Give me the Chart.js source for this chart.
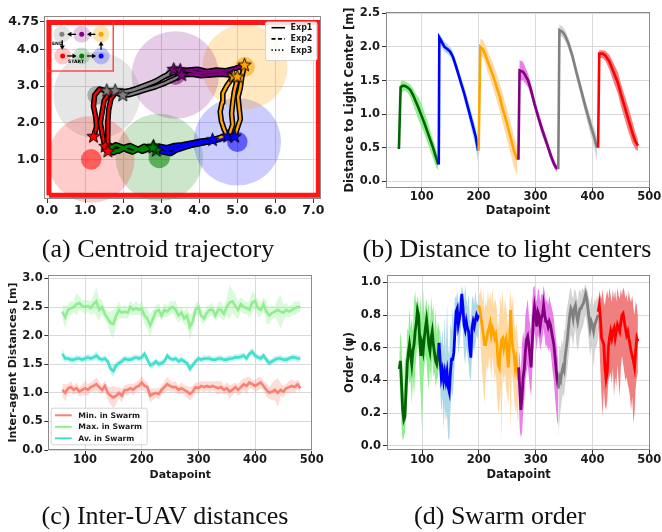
<!DOCTYPE html>
<html><head><meta charset="utf-8">
<script src="https://cdn.jsdelivr.net/npm/chart.js@4.4.1/dist/chart.umd.min.js"></script>
<style>
html,body{margin:0;padding:0;background:#fff;}
#wrap{position:relative;width:662px;height:532px;overflow:hidden;background:#fff;}
canvas{position:absolute;left:0;top:0;}
.cap{position:absolute;font-family:"Liberation Serif","Times New Roman",serif;font-size:26px;color:#111;white-space:nowrap;transform:translateX(-50%);line-height:1;}
</style></head>
<body><div id="wrap">
<canvas id="ca" width="662" height="532"></canvas>
<canvas id="cb" width="662" height="532"></canvas>
<canvas id="cc" width="662" height="532"></canvas>
<canvas id="cd" width="662" height="532"></canvas>
<div class="cap" style="left:158px;top:236px">(a) Centroid trajectory</div>
<div class="cap" style="left:507px;top:236px">(b) Distance to light centers</div>
<div class="cap" style="left:165px;top:503px">(c) Inter-UAV distances</div>
<div class="cap" style="left:500px;top:503px">(d) Swarm order</div>
</div>
<script>
// ================= DATA =================
// ---- Panel (a): lights (order: green, blue, orange, purple, gray, red) ----
const lightX = [2.95, 5.00, 5.20, 3.37, 1.31, 1.16];
const lightY = [1.05, 1.48, 3.52, 3.30, 2.75, 1.00];
const bigRadius = [1.15, 1.15, 1.12, 1.15, 1.14, 1.14];
const smallRadius = [0.28, 0.27, 0.26, 0.26, 0.25, 0.27];
const arenaX = [0.05, 7.13, 7.13, 0.05, 0.05];
const arenaY = [0.02, 0.02, 4.73, 4.73, 0.02];
const insetBoxX = [-0.01, 1.74, 1.74];
const insetBoxY = [3.41, 3.41, 4.75];
const insetX = [0.91, 1.42, 1.42, 0.91, 0.39, 0.41];
const insetY = [3.82, 3.82, 4.41, 4.41, 4.41, 3.82];
const insetArrows = [[0.53,3.82,0.78,3.82],[1.05,3.82,1.29,3.82],[1.42,3.99,1.42,4.22],[1.27,4.41,1.05,4.41],[0.76,4.41,0.53,4.41],[0.40,4.25,0.40,3.99]];
// trajectories [x,y]
const exp1Green  = [[1.50,1.32],[1.58,1.42],[1.70,1.36],[1.62,1.22],[1.75,1.18],[1.92,1.28],[2.10,1.36],[2.28,1.30],[2.45,1.26],[2.62,1.32],[2.80,1.36]];
const exp1Blue   = [[2.80,1.36],[2.98,1.30],[3.15,1.26],[3.35,1.30],[3.55,1.34],[3.75,1.38],[3.95,1.42],[4.15,1.46],[4.35,1.50],[4.55,1.55],[4.75,1.62]];
const exp1Orange = [[4.75,1.62],[4.66,1.80],[4.58,2.05],[4.55,2.30],[4.60,2.55],[4.62,2.80],[4.72,3.00],[4.90,3.27]];
const exp1Purple = [[4.90,3.27],[4.72,3.33],[4.50,3.40],[4.25,3.38],[4.00,3.35],[3.80,3.40],[3.55,3.44],[3.33,3.45]];
const exp1Gray   = [[3.33,3.45],[3.15,3.30],[2.90,3.15],[2.65,3.05],[2.40,2.95],[2.15,2.86],[1.90,2.80],[1.57,2.87]];
const exp1Red    = [[1.57,2.87],[1.38,2.92],[1.25,2.75],[1.22,2.45],[1.28,2.15],[1.30,1.90],[1.25,1.70],[1.22,1.62]];
const exp2Green  = [[1.55,1.25],[1.68,1.30],[1.80,1.40],[1.95,1.35],[2.10,1.25],[2.25,1.20],[2.40,1.28],[2.55,1.36],[2.70,1.30],[2.87,1.24]];
const exp2Blue   = [[2.87,1.24],[3.05,1.20],[3.25,1.16],[3.40,1.25],[3.60,1.32],[3.85,1.40],[4.10,1.45],[4.35,1.53],[4.60,1.58],[4.93,1.62]];
const exp2Orange = [[4.93,1.62],[5.00,1.85],[5.08,2.10],[5.05,2.40],[5.02,2.70],[5.08,2.95],[5.12,3.25],[5.19,3.57]];
const exp2Purple = [[5.19,3.57],[4.95,3.48],[4.70,3.42],[4.45,3.44],[4.20,3.40],[3.95,3.46],[3.70,3.44],[3.50,3.43]];
const exp2Gray   = [[3.50,3.43],[3.30,3.36],[3.05,3.25],[2.80,3.10],[2.55,3.00],[2.30,2.90],[2.05,2.85],[1.79,2.87]];
const exp2Red    = [[1.79,2.87],[1.62,2.80],[1.50,2.60],[1.45,2.30],[1.40,2.00],[1.45,1.70],[1.50,1.45],[1.53,1.35]];
const exp3Green  = [[1.60,1.20],[1.72,1.28],[1.88,1.22],[2.02,1.30],[2.18,1.38],[2.35,1.30],[2.50,1.22],[2.65,1.28],[2.78,1.32]];
const exp3Blue   = [[2.78,1.32],[2.95,1.36],[3.15,1.32],[3.35,1.38],[3.55,1.40],[3.80,1.45],[4.05,1.50],[4.35,1.53]];
const exp3Orange = [[4.35,1.53],[4.55,1.60],[4.80,1.70],[4.88,1.95],[4.85,2.25],[4.88,2.55],[4.92,2.85],[4.98,3.10],[5.00,3.25]];
const exp3Purple = [[5.00,3.25],[4.80,3.30],[4.55,3.32],[4.30,3.30],[4.05,3.28],[3.80,3.32],[3.54,3.30]];
const exp3Gray   = [[3.54,3.30],[3.35,3.20],[3.10,3.08],[2.85,2.98],[2.60,2.90],[2.35,2.82],[2.15,2.76],[1.99,2.75]];
const exp3Red    = [[1.99,2.75],[1.80,2.82],[1.68,2.65],[1.62,2.35],[1.60,2.05],[1.58,1.75],[1.60,1.45],[1.60,1.22]];
const starX = [2.80,2.87,2.78, 4.75,4.93,4.35, 4.90,5.19,5.00, 3.33,3.50,3.54, 1.57,1.79,1.99, 1.22,1.53,1.60];
const starY = [1.36,1.24,1.32, 1.62,1.62,1.53, 3.27,3.57,3.25, 3.45,3.43,3.30, 2.87,2.87,2.75, 1.62,1.35,1.22];
const aXTicks = [0,1,2,3,4,5,6,7];
const aYTicks = [1,2,3,4,4.75];

// ---- Panel (b): distance to light center ----
const bGreenX = [60,63,66,70,75,80,85,90,95,100,105,110,115,120,125,129];
const bGreenMean = [0.48,1.40,1.42,1.42,1.40,1.36,1.28,1.18,1.08,0.97,0.86,0.74,0.62,0.50,0.36,0.25];
const bGreenLo = [0.42,1.30,1.33,1.35,1.32,1.25,1.14,1.02,0.90,0.80,0.70,0.58,0.46,0.34,0.22,0.16];
const bGreenHi = [0.54,1.48,1.50,1.49,1.47,1.44,1.38,1.30,1.24,1.14,1.02,0.90,0.76,0.62,0.48,0.34];
const bBlueX = [130,131,135,140,145,150,155,160,165,170,175,180,185,190,195,199];
const bBlueMean = [0.25,2.14,2.08,2.00,1.97,1.93,1.85,1.72,1.58,1.44,1.30,1.14,0.98,0.82,0.66,0.46];
const bBlueLo = [0.22,2.06,2.00,1.93,1.90,1.86,1.77,1.64,1.50,1.35,1.20,1.04,0.86,0.68,0.50,0.30];
const bBlueHi = [0.28,2.20,2.15,2.08,2.04,2.00,1.93,1.80,1.67,1.53,1.40,1.25,1.10,0.95,0.80,0.58];
const bOrangeX = [200,203,208,212,218,225,230,237,243,250,256,262,268];
const bOrangeMean = [0.46,2.00,1.96,1.88,1.74,1.58,1.45,1.26,1.06,0.86,0.66,0.46,0.32];
const bOrangeLo = [0.40,1.88,1.84,1.74,1.58,1.40,1.26,1.05,0.84,0.62,0.42,0.22,0.08];
const bOrangeHi = [0.50,2.12,2.10,2.02,1.90,1.76,1.64,1.46,1.28,1.08,0.88,0.68,0.50];
const bPurpleX = [270,272,278,282,287,292,298,305,312,320,327,333,338];
const bPurpleMean = [0.32,1.65,1.63,1.58,1.50,1.36,1.16,0.95,0.76,0.56,0.38,0.25,0.18];
const bPurpleLo = [0.26,1.50,1.50,1.46,1.40,1.27,1.08,0.87,0.68,0.49,0.31,0.19,0.14];
const bPurpleHi = [0.38,1.80,1.78,1.70,1.60,1.46,1.25,1.04,0.84,0.64,0.45,0.31,0.23];
const bGrayX = [340,342,348,352,358,365,372,380,388,396,403,408];
const bGrayMean = [0.18,2.25,2.22,2.17,2.05,1.86,1.62,1.36,1.10,0.86,0.66,0.50];
const bGrayLo = [0.15,2.17,2.14,2.09,1.97,1.78,1.53,1.26,0.99,0.72,0.50,0.30];
const bGrayHi = [0.21,2.33,2.30,2.25,2.13,1.94,1.71,1.46,1.20,0.98,0.80,0.66];
const bRedX = [410,412,418,423,430,437,445,450,457,464,470,475,480];
const bRedMean = [0.50,1.90,1.90,1.87,1.78,1.63,1.46,1.30,1.10,0.90,0.73,0.60,0.53];
const bRedLo = [0.44,1.84,1.83,1.79,1.66,1.48,1.30,1.12,0.92,0.72,0.57,0.48,0.45];
const bRedHi = [0.56,1.95,1.95,1.94,1.88,1.76,1.62,1.46,1.27,1.08,0.90,0.74,0.62];
const bYTicks = [0,0.5,1,1.5,2,2.5];
const dpTicks = [100,200,300,400,500];

// ---- Panel (c): inter-agent distances, datapoints 60..480 every 5 ----
const cX = [60,65,70,75,80,85,90,95,100,105,110,115,120,125,130,135,140,145,150,155,160,165,170,175,180,185,190,195,200,205,210,215,220,225,230,235,240,245,250,255,260,265,270,275,280,285,290,295,300,305,310,315,320,325,330,335,340,345,350,355,360,365,370,375,380,385,390,395,400,405,410,415,420,425,430,435,440,445,450,455,460,465,470,475,480];
const cMaxMean = [2.42,2.32,2.45,2.48,2.50,2.55,2.57,2.52,2.50,2.52,2.48,2.55,2.60,2.45,2.50,2.38,2.30,
 2.22,2.20,2.35,2.45,2.40,2.42,2.40,2.50,2.45,2.48,2.45,2.47,2.35,2.30,2.18,2.30,2.42,
 2.45,2.35,2.45,2.42,2.48,2.50,2.45,2.35,2.40,2.30,2.35,2.15,2.25,2.45,2.50,2.35,2.30,
 2.40,2.45,2.45,2.35,2.45,2.45,2.38,2.50,2.58,2.60,2.52,2.45,2.55,2.50,2.48,2.45,2.58,
 2.60,2.48,2.45,2.55,2.42,2.35,2.40,2.42,2.45,2.42,2.40,2.45,2.42,2.45,2.48,2.50,2.50];
const cMaxSpread = [0.12,0.20,0.10,0.12,0.10,0.20,0.12,0.10,0.12,0.10,0.12,0.15,0.25,0.20,0.12,0.10,0.12,
 0.20,0.25,0.15,0.15,0.10,0.12,0.10,0.12,0.10,0.12,0.10,0.12,0.15,0.18,0.20,0.15,0.10,
 0.12,0.10,0.12,0.10,0.12,0.10,0.15,0.12,0.10,0.12,0.15,0.22,0.15,0.12,0.10,0.12,0.10,
 0.12,0.10,0.12,0.10,0.12,0.15,0.12,0.15,0.30,0.20,0.20,0.15,0.12,0.12,0.10,0.15,0.20,
 0.12,0.15,0.12,0.12,0.20,0.15,0.12,0.10,0.20,0.30,0.15,0.12,0.10,0.10,0.12,0.10,0.08];
const cAvMean = [1.68,1.60,1.60,1.58,1.58,1.60,1.60,1.58,1.60,1.62,1.60,1.62,1.65,1.60,1.58,1.60,1.55,
 1.42,1.38,1.48,1.52,1.55,1.60,1.58,1.58,1.60,1.62,1.60,1.62,1.68,1.58,1.48,1.50,1.55,
 1.50,1.52,1.55,1.65,1.60,1.58,1.60,1.55,1.58,1.55,1.52,1.42,1.48,1.55,1.60,1.58,1.60,
 1.60,1.60,1.58,1.58,1.60,1.60,1.58,1.58,1.60,1.60,1.62,1.62,1.63,1.65,1.60,1.68,1.72,
 1.65,1.62,1.60,1.65,1.58,1.52,1.55,1.58,1.60,1.60,1.58,1.58,1.60,1.62,1.62,1.60,1.60];
const cAvSpread = [0.10,0.06,0.05,0.06,0.05,0.06,0.05,0.06,0.05,0.06,0.05,0.06,0.08,0.06,0.05,0.06,0.06,
 0.08,0.10,0.06,0.05,0.06,0.05,0.06,0.05,0.06,0.05,0.06,0.05,0.07,0.06,0.06,0.06,0.05,
 0.06,0.05,0.06,0.06,0.05,0.06,0.05,0.06,0.05,0.06,0.06,0.08,0.06,0.05,0.06,0.05,0.06,
 0.05,0.06,0.05,0.06,0.05,0.06,0.05,0.06,0.06,0.05,0.06,0.05,0.06,0.05,0.06,0.06,0.07,
 0.06,0.05,0.06,0.05,0.07,0.06,0.05,0.06,0.05,0.06,0.05,0.06,0.05,0.06,0.05,0.06,0.05];
const cMinMean = [1.05,1.00,1.08,1.10,1.05,1.08,1.02,1.05,1.08,1.05,1.10,1.12,1.15,1.10,1.05,1.12,1.00,
 0.95,0.92,0.95,1.00,0.95,1.05,1.05,1.08,1.05,1.10,1.12,1.18,1.12,1.10,0.95,0.98,1.00,
 0.98,1.05,1.10,1.15,1.12,1.10,1.10,1.05,1.08,1.05,1.02,0.98,1.02,1.10,1.08,1.12,1.10,
 1.12,1.10,1.12,1.10,1.08,1.10,1.05,1.08,1.02,1.05,1.10,1.05,1.10,1.15,1.12,1.18,1.15,
 1.12,1.15,1.18,1.12,1.05,1.00,1.02,1.05,1.00,1.05,1.02,1.08,1.10,1.12,1.10,1.15,1.08];
const cMinSpread = [0.10,0.15,0.08,0.10,0.08,0.10,0.08,0.10,0.12,0.10,0.08,0.10,0.12,0.10,0.08,0.10,0.12,
 0.15,0.20,0.15,0.10,0.12,0.08,0.10,0.08,0.10,0.08,0.10,0.12,0.10,0.08,0.12,0.10,0.08,
 0.10,0.08,0.10,0.12,0.10,0.08,0.10,0.08,0.10,0.08,0.10,0.12,0.10,0.08,0.10,0.08,0.10,
 0.08,0.10,0.08,0.10,0.12,0.10,0.08,0.10,0.12,0.10,0.08,0.10,0.12,0.10,0.15,0.10,0.08,
 0.10,0.12,0.10,0.08,0.12,0.10,0.15,0.18,0.25,0.12,0.10,0.08,0.10,0.12,0.10,0.08,0.10];
const cYTicks = [0,0.5,1,1.5,2,2.5,3];
const cLegend = ['Min. in Swarm','Max. in Swarm','Av. in Swarm'];

// ---- Panel (d): swarm order, every 2 datapoints per light segment ----
const dStarts = [60,130,200,270,340,410];
const dGreenMean = [0.47,0.52,0.38,0.22,0.16,0.18,0.35,0.50,0.57,0.62,0.56,0.50,0.58,0.62,0.70,0.75,0.83,0.80,0.65,0.55,0.62,0.58,0.66,0.72,0.77,0.70,0.62,0.58,0.66,0.70,0.62,0.57,0.52,0.50,0.55,0.63];
const dGreenHi = [0.55,0.70,0.62,0.45,0.30,0.55,0.52,0.72,0.70,0.85,0.72,0.78,0.70,0.88,0.95,0.85,0.92,0.88,0.80,0.93,0.75,0.96,0.80,0.86,0.90,0.82,0.88,0.72,0.92,0.82,0.86,0.70,0.84,0.68,0.76,0.72];
const dGreenLo = [0.40,0.30,0.12,0.03,0.05,0.08,0.20,0.30,0.42,0.38,0.40,0.25,0.42,0.30,0.45,0.55,0.62,0.60,0.42,0.30,0.10,0.38,0.48,0.55,0.52,0.40,0.35,0.48,0.38,0.55,0.42,0.45,0.36,0.40,0.42,0.50];
const dBlueMean = [0.63,0.52,0.42,0.46,0.40,0.45,0.40,0.45,0.36,0.33,0.45,0.53,0.53,0.57,0.70,0.82,0.84,0.74,0.78,0.82,0.93,0.85,0.74,0.71,0.76,0.72,0.70,0.60,0.54,0.72,0.76,0.73,0.77,0.80,0.78,0.80];
const dBlueHi = [0.72,0.70,0.62,0.72,0.58,0.80,0.55,0.88,0.60,0.55,0.75,0.70,0.85,0.75,0.92,0.90,0.95,0.86,0.92,0.90,0.98,0.95,0.88,0.99,0.90,0.85,0.94,0.80,0.75,0.90,0.92,0.86,0.95,0.88,0.86,0.90];
const dBlueLo = [0.50,0.35,0.20,0.30,0.10,0.25,0.15,0.20,0.05,0.03,0.22,0.35,0.30,0.40,0.55,0.70,0.70,0.55,0.62,0.70,0.80,0.70,0.55,0.50,0.60,0.55,0.50,0.42,0.40,0.55,0.60,0.58,0.62,0.68,0.65,0.72];
const dOrangeMean = [0.86,0.83,0.78,0.73,0.68,0.62,0.62,0.66,0.70,0.72,0.75,0.68,0.72,0.70,0.66,0.68,0.62,0.50,0.48,0.58,0.65,0.66,0.60,0.64,0.66,0.55,0.48,0.62,0.83,0.66,0.60,0.56,0.48,0.52,0.45,0.40];
const dOrangeHi = [0.95,0.92,0.98,0.88,0.95,0.82,0.90,0.85,0.96,0.88,0.94,0.86,0.97,0.85,0.90,0.88,0.82,0.72,0.80,0.92,0.85,0.96,0.80,0.90,0.86,0.78,0.70,0.88,0.95,0.85,0.92,0.78,0.70,0.75,0.68,0.60];
const dOrangeLo = [0.75,0.70,0.55,0.45,0.35,0.25,0.40,0.50,0.45,0.55,0.50,0.40,0.55,0.48,0.40,0.45,0.30,0.20,0.22,0.35,0.03,0.45,0.38,0.45,0.35,0.30,0.25,0.42,0.10,0.45,0.40,0.30,0.20,0.25,0.15,0.18];
const dPurpleMean = [0.48,0.35,0.22,0.30,0.42,0.47,0.58,0.65,0.67,0.62,0.55,0.48,0.62,0.78,0.85,0.80,0.73,0.82,0.80,0.73,0.78,0.80,0.86,0.80,0.76,0.76,0.73,0.76,0.74,0.70,0.66,0.62,0.55,0.47,0.40,0.36];
const dPurpleHi = [0.60,0.55,0.45,0.62,0.70,0.65,0.80,0.85,0.90,0.80,0.75,0.70,0.88,0.97,0.98,0.92,0.88,0.96,0.95,0.88,0.93,0.92,0.98,0.94,0.88,0.90,0.86,0.92,0.88,0.85,0.82,0.78,0.70,0.65,0.58,0.50];
const dPurpleLo = [0.30,0.10,0.05,0.08,0.20,0.28,0.40,0.45,0.50,0.42,0.35,0.30,0.45,0.62,0.70,0.65,0.58,0.68,0.65,0.58,0.62,0.66,0.72,0.66,0.60,0.62,0.58,0.60,0.58,0.52,0.45,0.40,0.30,0.22,0.15,0.12];
const dGrayMean = [0.35,0.42,0.40,0.45,0.48,0.46,0.55,0.60,0.66,0.73,0.80,0.84,0.82,0.78,0.84,0.86,0.80,0.76,0.80,0.84,0.84,0.86,0.87,0.90,0.93,0.90,0.84,0.78,0.72,0.76,0.74,0.70,0.74,0.76,0.78,0.80];
const dGrayHi = [0.50,0.62,0.58,0.65,0.62,0.70,0.72,0.82,0.86,0.90,0.95,0.97,0.92,0.90,0.96,0.95,0.92,0.88,0.94,0.96,0.93,0.97,0.95,0.97,0.99,0.96,0.94,0.90,0.86,0.92,0.88,0.86,0.90,0.88,0.92,0.90];
const dGrayLo = [0.05,0.15,0.22,0.28,0.32,0.30,0.38,0.42,0.48,0.55,0.62,0.68,0.66,0.60,0.68,0.72,0.62,0.58,0.62,0.68,0.70,0.72,0.74,0.78,0.80,0.76,0.70,0.62,0.55,0.60,0.58,0.48,0.58,0.60,0.62,0.66];
const dRedMean = [0.82,0.86,0.78,0.66,0.64,0.62,0.48,0.41,0.45,0.60,0.66,0.70,0.66,0.70,0.72,0.66,0.70,0.74,0.72,0.70,0.76,0.80,0.81,0.76,0.72,0.68,0.70,0.66,0.62,0.58,0.55,0.52,0.48,0.58,0.66,0.64];
const dRedHi = [0.88,0.95,0.92,0.90,0.96,0.88,0.86,0.92,0.95,0.90,0.97,0.92,0.88,0.96,0.90,0.95,0.88,0.97,0.92,0.90,0.96,0.92,0.97,0.95,0.90,0.93,0.88,0.95,0.90,0.88,0.92,0.85,0.80,0.88,0.86,0.80];
const dRedLo = [0.72,0.65,0.45,0.30,0.18,0.35,0.25,0.22,0.28,0.40,0.42,0.45,0.38,0.48,0.30,0.42,0.36,0.50,0.40,0.30,0.48,0.55,0.50,0.45,0.40,0.42,0.38,0.35,0.30,0.22,0.30,0.14,0.20,0.35,0.42,0.45];
const dYTicks = [0,0.2,0.4,0.6,0.8,1.0];

// ================= STYLE =================
const FONT = '"DejaVu Sans", sans-serif';
const GRID = '#d9d9d9';
const TXT = '#1a1a1a';
const lineCol = ['#006400','#0000ff','#ffa500','#800080','#808080','#ff0000'];
const trajCol = ['#008000','#0000ff','#ffa500','#800080','#808080','#ff0000'];
const bandCol = ['#90ee90','#add8e6','#ffd9a3','#ea7fea','#d3d3d3','#f08080'];
const bigCol = ['rgba(0,128,0,0.2)','rgba(0,0,255,0.2)','rgba(255,165,0,0.25)','rgba(128,0,128,0.2)','rgba(128,128,128,0.2)','rgba(255,0,0,0.2)'];
const smallCol = ['rgba(0,128,0,0.55)','rgba(0,0,255,0.55)','rgba(255,165,0,0.6)','rgba(128,0,128,0.55)','rgba(128,128,128,0.55)','rgba(255,0,0,0.55)'];
const insetCol = ['rgba(0,128,0,0.22)','rgba(0,0,255,0.22)','rgba(255,165,0,0.3)','rgba(128,0,128,0.22)','rgba(128,128,128,0.22)','rgba(255,0,0,0.22)'];

Chart.defaults.font.family = FONT;
Chart.defaults.color = TXT;

function pts(xs, ys){ return xs.map((x,i)=>({x:x, y:ys[i]})); }
function pairs(a){ return a.map(p=>({x:p[0], y:p[1]})); }
function stepX(start, n){ const r=[]; for(let i=0;i<n;i++) r.push(start+2*i); return r; }
function seq(arr){ arr.forEach((d,i)=>{ d.order = -i; }); return arr; }
function L(data, o){ return Object.assign({data:data, showLine:true, pointRadius:0, pointHoverRadius:0, borderWidth:0, borderColor:'rgba(0,0,0,0)', tension:0, fill:false}, o); }

function axes(p){
  const lh = 1.2;
  return {
    x: { type:'linear', min:p.xmin, max:p.xmax,
      afterBuildTicks: s => { s.ticks = p.xticks.map(v=>({value:v})); },
      afterFit: s => { s.height = p.xH; },
      grid: {color:GRID, lineWidth:1, tickColor:'#333', tickLength:4, drawTicks:true},
      border: {display:false},
      ticks: {font:{family:FONT, weight:'bold', size:p.fs, lineHeight:1}, color:TXT, padding:p.xPad, maxRotation:0, autoSkip:false, callback: v => p.xfmt(v)},
      title: p.xTitle ? {display:true, text:p.xTitle, font:{family:FONT, weight:'bold', size:p.ts, lineHeight:lh}, color:TXT, padding:0} : {display:false}
    },
    y: { type:'linear', min:p.ymin, max:p.ymax,
      afterBuildTicks: s => { s.ticks = p.yticks.map(v=>({value:v})); },
      afterFit: s => { s.width = p.yW; },
      grid: {color:GRID, lineWidth:1, tickColor:'#333', tickLength:4, drawTicks:true},
      border: {display:false},
      ticks: {font:{family:FONT, weight:'bold', size:p.fs, lineHeight:1}, color:TXT, padding:p.yPad, autoSkip:false, callback: v => p.yfmt(v)},
      title: p.yTitle ? {display:true, text:p.yTitle, font:{family:FONT, weight:'bold', size:p.ts, lineHeight:lh}, color:TXT, padding:0} : {display:false}
    }
  };
}
const framePlugin = {id:'frame', afterDatasetsDraw(c){
  const a=c.chartArea, g=c.ctx; g.save(); g.strokeStyle='#8a8a8a'; g.lineWidth=1;
  g.strokeRect(Math.round(a.left)+0.5, Math.round(a.top)+0.5, Math.round(a.right-a.left)-1, Math.round(a.bottom-a.top)-1);
  g.restore(); }};

function baseOpts(layoutPad, scales, extra){
  return Object.assign({responsive:false, animation:false, events:[], devicePixelRatio:1,
    layout:{padding:layoutPad, autoPadding:false},
    plugins:{legend:{display:false}, tooltip:{enabled:false}},
    scales:scales}, extra||{});
}
const f1 = v => v.toFixed(1);
const f0 = v => String(v);

// ================= PANEL (a) =================
function starImg(color){
  const r=7, s=17, c=document.createElement('canvas'); c.width=s; c.height=s;
  const g=c.getContext('2d'); g.beginPath();
  for(let i=0;i<10;i++){ const rr = (i%2)? r*0.42 : r; const an = -Math.PI/2 + i*Math.PI/5; g.lineTo(s/2+rr*Math.cos(an), s/2+rr*Math.sin(an)); }
  g.closePath(); g.fillStyle=color; g.fill(); g.lineWidth=0.9; g.strokeStyle='#000'; g.stroke(); return c;
}
(function(){
  const pxR = (chart, r) => { const s=chart.scales.x; return Math.abs(s.getPixelForValue(r)-s.getPixelForValue(0)); };
  const exps = [
    [exp1Green,exp1Blue,exp1Orange,exp1Purple,exp1Gray,exp1Red],
    [exp2Green,exp2Blue,exp2Orange,exp2Purple,exp2Gray,exp2Red],
    [exp3Green,exp3Blue,exp3Orange,exp3Purple,exp3Gray,exp3Red]];
  const dsets = [];
  dsets.push(L(pts(lightX,lightY), {showLine:false, pointBackgroundColor:bigCol, pointBorderWidth:0, pointBorderColor:'rgba(0,0,0,0)',
    pointRadius: ctx => (ctx.dataIndex===undefined ? 0 : pxR(ctx.chart, bigRadius[ctx.dataIndex])), clip:false}));
  dsets.push(L(pts(lightX,lightY), {showLine:false, pointBackgroundColor:smallCol, pointBorderWidth:0, pointBorderColor:'rgba(0,0,0,0)',
    pointRadius: ctx => (ctx.dataIndex===undefined ? 0 : pxR(ctx.chart, smallRadius[ctx.dataIndex]))}));
  dsets.push(L(pts(arenaX,arenaY), {borderColor:'rgba(255,10,10,0.95)', borderWidth:5}));
  dsets.push(L(pts(insetBoxX,insetBoxY), {borderColor:'rgba(255,60,60,0.9)', borderWidth:1.5}));
  dsets.push(L(pts(insetX,insetY), {showLine:false, pointRadius:8.5, pointBackgroundColor:insetCol, pointBorderWidth:0, pointBorderColor:'rgba(0,0,0,0)'}));
  dsets.push(L(pts(insetX,insetY), {showLine:false, pointRadius:2.5, pointBackgroundColor:trajCol, pointBorderWidth:0, pointBorderColor:'rgba(0,0,0,0)'}));
  exps.forEach(e => e.forEach(seg => dsets.push(L(pairs(seg), {borderColor:'#000', borderWidth:5.5, borderJoinStyle:'round', borderCapStyle:'round'}))));
  exps.forEach((e,ei) => e.forEach((seg,ci) => dsets.push(L(pairs(seg), {borderColor:trajCol[ci], borderWidth:2.4, borderJoinStyle:'round'}))));
  const starStyles = starX.map((x,i)=>starImg(trajCol[Math.floor(i/3)]));
  dsets.push(L(pts(starX,starY), {showLine:false, pointRadius:7, pointStyle:starStyles}));

  const insetPlugin = {id:'inset', afterDatasetsDraw(c){
    const g=c.ctx, X=c.scales.x, Y=c.scales.y;
    g.save(); g.strokeStyle='#000'; g.fillStyle='#000'; g.lineWidth=1.3;
    insetArrows.forEach(a=>{
      const x1=X.getPixelForValue(a[0]), y1=Y.getPixelForValue(a[1]), x2=X.getPixelForValue(a[2]), y2=Y.getPixelForValue(a[3]);
      const an=Math.atan2(y2-y1,x2-x1), h=4.2;
      g.beginPath(); g.moveTo(x1,y1); g.lineTo(x2-h*0.8*Math.cos(an), y2-h*0.8*Math.sin(an)); g.stroke();
      g.beginPath(); g.moveTo(x2,y2); g.lineTo(x2-h*Math.cos(an)+h*0.6*Math.sin(an), y2-h*Math.sin(an)-h*0.6*Math.cos(an));
      g.lineTo(x2-h*Math.cos(an)-h*0.6*Math.sin(an), y2-h*Math.sin(an)+h*0.6*Math.cos(an)); g.closePath(); g.fill();
    });
    g.font='bold 4.6px "DejaVu Sans"'; g.textAlign='center'; g.textBaseline='middle';
    g.fillText('END', X.getPixelForValue(0.27), Y.getPixelForValue(4.14));
    g.fillText('START', X.getPixelForValue(0.76), Y.getPixelForValue(3.66));
    g.restore();
  }, afterDraw(c){
    const g=c.ctx, a=c.chartArea;
    const bx=a.right-56, by=a.top+5.5, bw=51.5, bh=38.5;
    g.save(); g.fillStyle='rgba(255,255,255,0.85)'; g.strokeStyle='#d4d4d4'; g.lineWidth=1;
    g.beginPath(); g.roundRect(bx+0.5,by+0.5,bw,bh,2); g.fill(); g.stroke();
    const rows=[['Exp1',[]],['Exp2',[4,2.4]],['Exp3',[1.3,2.2]]];
    rows.forEach((r,i)=>{ const yy=by+6.2+i*11.2; g.strokeStyle='#000'; g.lineWidth=1.6; g.setLineDash(r[1]);
      g.beginPath(); g.moveTo(bx+6.5,yy); g.lineTo(bx+20,yy); g.stroke(); g.setLineDash([]);
      g.fillStyle=TXT; g.font='bold 8px "DejaVu Sans"'; g.textBaseline='middle'; g.textAlign='left'; g.fillText(r[0], bx+25.5, yy+0.5); });
    g.restore();
  }};
  const L0=44, R0=321, T0=16, B0=199;
  new Chart(document.getElementById('ca'), {type:'scatter', data:{datasets:seq(dsets)},
    options: baseOpts({left:0,right:662-R0,top:T0,bottom:0},
      axes({xmin:-0.08,xmax:7.2,ymin:-0.08,ymax:4.91,xticks:aXTicks,yticks:aYTicks,xfmt:f1,yfmt:v=>v===4.75?'4.75':v.toFixed(1),
        xH:532-B0,yW:L0,fs:12.5,ts:12,xPad:1.5,yPad:1})),
    plugins:[framePlugin, insetPlugin]});
})();

// ================= PANEL (b) =================
(function(){
  const segs = [[bGreenX,bGreenMean,bGreenLo,bGreenHi],[bBlueX,bBlueMean,bBlueLo,bBlueHi],[bOrangeX,bOrangeMean,bOrangeLo,bOrangeHi],
                [bPurpleX,bPurpleMean,bPurpleLo,bPurpleHi],[bGrayX,bGrayMean,bGrayLo,bGrayHi],[bRedX,bRedMean,bRedLo,bRedHi]];
  const dsets=[];
  segs.forEach((s,i)=>{ dsets.push(L(pts(s[0],s[3]),{})); dsets.push(L(pts(s[0],s[2]),{fill:'-1', backgroundColor:bandCol[i]})); });
  segs.forEach((s,i)=>{ dsets.push(L(pts(s[0],s[1]),{borderColor:lineCol[i], borderWidth:2.6})); });
  const L0=386,R0=650,T0=12,B0=188, lh=11.5*1.2, tyC=350, txC=211.5;
  const pl=tyC-lh/2, xb=txC+lh/2;
  new Chart(document.getElementById('cb'), {type:'scatter', data:{datasets:seq(dsets)},
    options: baseOpts({left:pl,right:662-R0,top:T0,bottom:532-xb},
      axes({xmin:37.3,xmax:501.2,ymin:-0.1,ymax:2.52,xticks:dpTicks,yticks:bYTicks,xfmt:f0,yfmt:f1,
        xH:xb-B0,yW:L0-pl,fs:11.5,ts:11.5,xPad:-0.5,yPad:2,xTitle:'Datapoint',yTitle:'Distance to Light Center [m]'})),
    plugins:[framePlugin]});
})();

// ================= PANEL (c) =================
(function(){
  const ser = [[cMinMean,cMinSpread,'#fa8072','rgba(250,128,114,0.28)'],[cMaxMean,cMaxSpread,'#90ee90','rgba(144,238,144,0.32)'],[cAvMean,cAvSpread,'#40e0d0','rgba(64,224,208,0.32)']];
  const dsets=[];
  ser.forEach(s=>{ dsets.push(L(pts(cX, s[0].map((m,i)=>m+s[1][i])),{}));
                   dsets.push(L(pts(cX, s[0].map((m,i)=>m-s[1][i])),{fill:'-1', backgroundColor:s[3]})); });
  ser.forEach(s=>{ dsets.push(L(pts(cX,s[0]),{borderColor:s[2], borderWidth:2.6})); });
  const legendPlugin = {id:'cleg', afterDraw(c){
    const g=c.ctx, a=c.chartArea; const bx=a.left+2.4, by=a.bottom-42.3, bw=96, bh=36.6;
    g.save(); g.fillStyle='rgba(255,255,255,0.85)'; g.strokeStyle='#d4d4d4'; g.lineWidth=1;
    g.beginPath(); g.roundRect(bx+0.5,by+0.5,bw,bh,2); g.fill(); g.stroke();
    cLegend.forEach((t,i)=>{ const yy=by+7.6+i*11.5; g.strokeStyle=ser[i][2]; g.lineWidth=2;
      g.beginPath(); g.moveTo(bx+4.3,yy); g.lineTo(bx+21,yy); g.stroke();
      g.fillStyle=TXT; g.font='bold 7.7px "DejaVu Sans"'; g.textAlign='left'; g.textBaseline='middle'; g.fillText(t, bx+27.6, yy+0.5); });
    g.restore(); }};
  const L0=48.3,R0=312.3,T0=275,B0=450, lh=11*1.2, tyC=13.3, txC=475;
  const pl=tyC-lh/2, xb=txC+lh/2;
  new Chart(document.getElementById('cc'), {type:'scatter', data:{datasets:seq(dsets)},
    options: baseOpts({left:pl,right:662-R0,top:T0,bottom:532-xb},
      axes({xmin:35.2,xmax:501,ymin:0,ymax:3.06,xticks:dpTicks,yticks:cYTicks,xfmt:f0,yfmt:f1,
        xH:xb-B0,yW:L0-pl,fs:11.5,ts:11,xPad:0.3,yPad:1.6,xTitle:'Datapoint',yTitle:'Inter-agent Distances [m]'})),
    plugins:[framePlugin, legendPlugin]});
})();

// ================= PANEL (d) =================
(function(){
  const segs=[[dGreenMean,dGreenLo,dGreenHi],[dBlueMean,dBlueLo,dBlueHi],[dOrangeMean,dOrangeLo,dOrangeHi],
              [dPurpleMean,dPurpleLo,dPurpleHi],[dGrayMean,dGrayLo,dGrayHi],[dRedMean,dRedLo,dRedHi]];
  const dsets=[];
  segs.forEach((s,i)=>{ const xs=stepX(dStarts[i], s[0].length);
    dsets.push(L(pts(xs,s[2]),{})); dsets.push(L(pts(xs,s[1]),{fill:'-1', backgroundColor:bandCol[i]})); });
  segs.forEach((s,i)=>{ const xs=stepX(dStarts[i], s[0].length);
    dsets.push(L(pts(xs,s[0]),{borderColor:lineCol[i], borderWidth:2.8})); });
  const L0=387,R0=650.3,T0=275,B0=450, lh=11.5*1.2, tyC=350.3, txC=475;
  const pl=tyC-lh/2, xb=txC+lh/2;
  new Chart(document.getElementById('cd'), {type:'scatter', data:{datasets:seq(dsets)},
    options: baseOpts({left:pl,right:662-R0,top:T0,bottom:532-xb},
      axes({xmin:38.4,xmax:501.8,ymin:-0.025,ymax:1.045,xticks:dpTicks,yticks:dYTicks,xfmt:f0,yfmt:f1,
        xH:xb-B0,yW:L0-pl,fs:11.5,ts:11.5,xPad:0,yPad:2,xTitle:'Datapoint',yTitle:'Order (\u03C8)'})),
    plugins:[framePlugin]});
})();
</script>
</body></html>
